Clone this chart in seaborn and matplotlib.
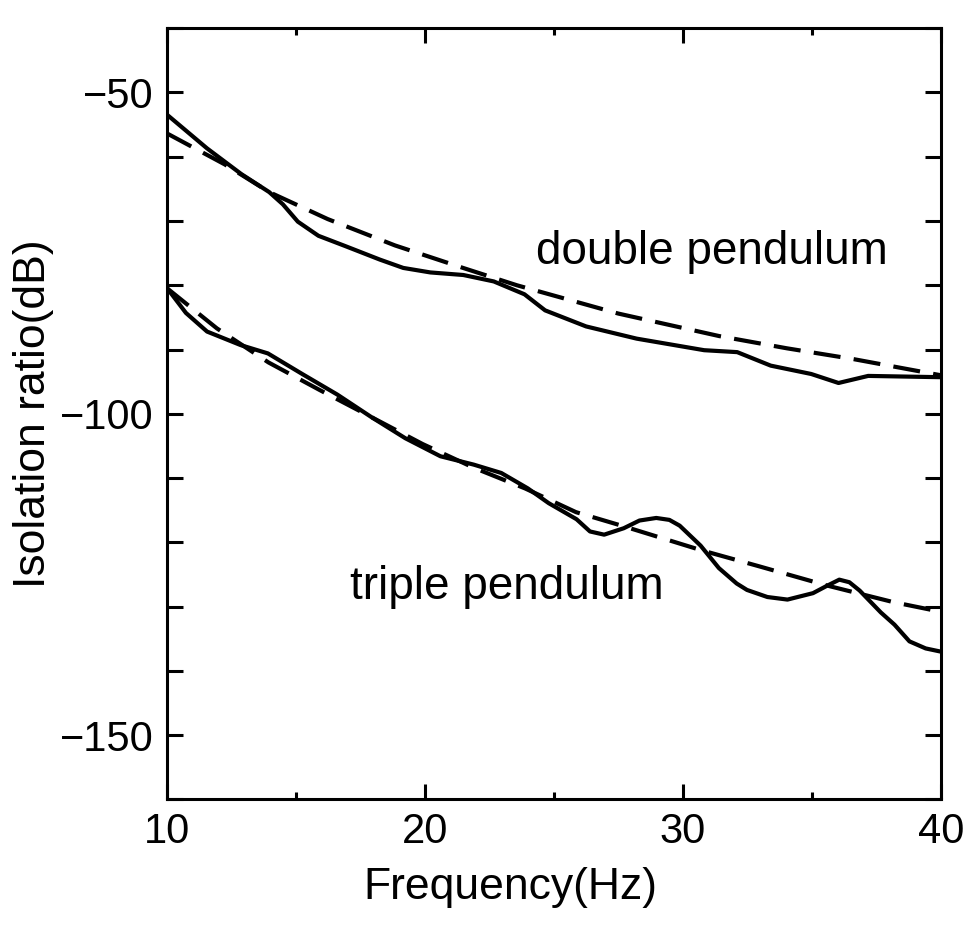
import numpy as np
import pandas as pd
import matplotlib
matplotlib.use("Agg")
import matplotlib.pyplot as plt
from matplotlib.ticker import MultipleLocator
import seaborn as sns

# --- values (frequency in Hz, ratio in dB) ---
double_f = [10.0, 11.54, 12.87, 13.95, 14.48, 15.06, 15.86, 16.9, 18.24, 19.15,
            20.2, 21.48, 22.66, 23.85, 24.65, 26.24, 28.2, 30.82, 32.1, 33.4,
            34.97, 36.03, 37.18, 40.0]
double_meas = [-53.5, -58.7, -62.7, -65.5, -67.4, -70.1, -72.3, -73.9, -76.0, -77.3,
               -78.0, -78.4, -79.4, -81.4, -83.9, -86.4, -88.3, -90.1, -90.4, -92.5,
               -93.8, -95.2, -94.1, -94.3]

double_fit_f = [10.0, 12.23, 13.95, 16.22, 18.83, 21.47, 23.56, 27.49, 31.4, 34.02, 36.63, 40.0]
double_fit = [-56.4, -61.2, -65.5, -69.7, -73.8, -77.3, -80.0, -84.4, -87.9, -89.8, -91.5, -94.0]

triple_f = [10.0, 10.72, 11.54, 12.84, 13.9, 15.23, 16.59, 17.91, 19.23, 20.59,
            21.88, 22.95, 23.98, 24.79, 25.87, 26.39, 26.94, 27.7, 28.31, 28.96,
            29.47, 29.87, 30.68, 31.39, 32.08, 32.48, 33.27, 34.05, 35.04, 35.56,
            36.06, 36.45, 36.85, 37.67, 38.2, 38.78, 39.41, 40.0]
triple_meas = [-80.5, -84.3, -87.2, -89.3, -90.6, -93.8, -97.0, -100.5, -103.8, -106.6,
               -107.9, -109.2, -111.6, -113.9, -116.4, -118.3, -118.8, -117.8, -116.6, -116.2,
               -116.5, -117.4, -120.5, -124.0, -126.4, -127.4, -128.5, -128.9, -127.9, -126.8,
               -125.8, -126.2, -127.5, -130.9, -132.8, -135.4, -136.5, -137.0]

triple_fit_f = [10.0, 11.92, 13.92, 15.91, 17.91, 19.9, 21.89, 23.87, 25.85, 27.7,
                30.69, 32.93, 35.57, 38.16, 40.0]
triple_fit = [-80.5, -86.7, -92.0, -96.3, -100.5, -104.7, -108.4, -111.6, -115.3, -117.5,
              -121.2, -123.7, -126.7, -129.3, -130.8]

sns.set_style("ticks")
plt.rcParams['font.family'] = ['Liberation Sans', 'DejaVu Sans']
plt.rcParams['text.color'] = 'black'
plt.rcParams['axes.labelcolor'] = 'black'
plt.rcParams['xtick.color'] = 'black'
plt.rcParams['ytick.color'] = 'black'

fig = plt.figure(figsize=(9.73, 9.40), dpi=100)
ax = fig.add_axes([0.172, 0.1495, 0.795, 0.8205])

lw = 3.0
dash = (0, (6.5, 3.2))
sns.lineplot(x=double_f, y=double_meas, color='black', linewidth=lw, ax=ax)
sns.lineplot(x=double_fit_f, y=double_fit, color='black', linewidth=lw, linestyle=dash, ax=ax)
sns.lineplot(x=triple_f, y=triple_meas, color='black', linewidth=lw, ax=ax)
sns.lineplot(x=triple_fit_f, y=triple_fit, color='black', linewidth=lw, linestyle=dash, ax=ax)

ax.text(24.3, -74.8, "double pendulum", fontsize=33, ha='left', va='center')
ax.text(17.1, -127.0, "triple pendulum", fontsize=33, ha='left', va='center')

ax.set_xlim(10, 40)
ax.set_ylim(-160, -40)
ax.xaxis.set_major_locator(MultipleLocator(10))
ax.xaxis.set_minor_locator(MultipleLocator(5))
ax.yaxis.set_major_locator(MultipleLocator(50))
ax.yaxis.set_minor_locator(MultipleLocator(10))

ax.tick_params(which='both', direction='in', top=True, right=True, width=2.2)
ax.tick_params(axis='x', which='major', length=11, labelsize=30, pad=9)
ax.tick_params(axis='x', which='minor', length=5)
ax.tick_params(axis='y', which='both', length=11.5, labelsize=30, pad=10)

for s in ax.spines.values():
    s.set_linewidth(2.2)
    s.set_color('black')

ax.set_xlabel("Frequency(Hz)", fontsize=32)
ax.set_ylabel("Isolation ratio(dB)", fontsize=32)
ax.xaxis.set_label_coords(0.443, -0.087)
ax.yaxis.set_label_coords(-0.147, 0.5)

fig.savefig("out.png", dpi=100, facecolor='white')
